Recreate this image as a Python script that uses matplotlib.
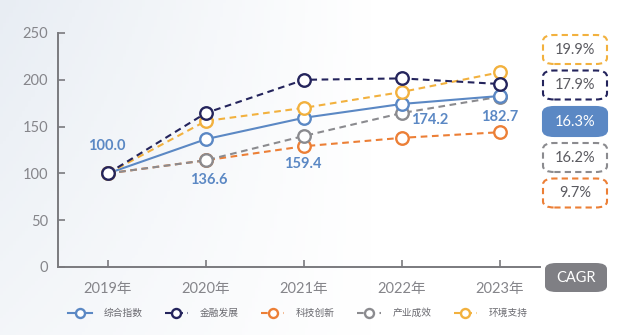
import numpy as np
import matplotlib
matplotlib.use("Agg")
import matplotlib.pyplot as plt
from matplotlib.patches import FancyBboxPatch

plt.rcParams['font.family'] = ['Lato', 'Noto Sans CJK SC', 'DejaVu Sans']

years = ['2019年', '2020年', '2021年', '2022年', '2023年']
composite = [100.0, 136.6, 159.4, 174.2, 182.7]
finance = [100, 164.5, 200, 201.5, 195.5]
tech = [100, 114, 129, 138, 144]
industry = [100, 114, 140, 164.5, 182]
environment = [100, 156, 170, 187, 208]

series_names = ['综合指数', '金融发展', '科技创新', '产业成效', '环境支持']
cagr_names = ['环境支持', '金融发展', '综合指数', '产业成效', '科技创新']
cagr_labels = ['19.9%', '17.9%', '16.3%', '16.2%', '9.7%']

colors = {'综合指数': '#5b88c4', '金融发展': '#24245c', '科技创新': '#ec7f36',
          '产业成效': '#8b8b8f', '环境支持': '#f2b13e'}

fig = plt.figure(figsize=(6.29, 3.35), dpi=100)
W, H = 629, 335

# soft background wash
bg = fig.add_axes([0, 0, 1, 1], zorder=-10)
gx = np.linspace(0, 1, 200)
gy = np.linspace(0, 1, 100)
GX, GY = np.meshgrid(gx, gy)
shade = np.clip(1 - 1.7 * GX, 0, 1) * (0.5 + 0.5 * GY)
base = np.array([1.0, 1.0, 1.0])
tint = np.array([0.91, 0.93, 0.955])
img = base[None, None, :] * (1 - shade[..., None]) + tint[None, None, :] * shade[..., None]
bg.imshow(img, aspect='auto', extent=[0, 1, 0, 1], origin='lower')
bg.axis('off')

ax = fig.add_axes([58 / W, 68 / H, 482 / W, 234 / H])
ax.patch.set_alpha(0)

x = np.arange(len(years))
data = {'综合指数': composite, '金融发展': finance, '科技创新': tech,
        '产业成效': industry, '环境支持': environment}
order = ['科技创新', '产业成效', '综合指数', '环境支持', '金融发展']
for name in order:
    ls = '-' if name == '综合指数' else (0, (3.2, 2.2))
    ax.plot(x, data[name], color=colors[name], linestyle=ls, linewidth=1.5,
            marker='o', markersize=9, markerfacecolor='white',
            markeredgewidth=1.7, markeredgecolor=colors[name], label=name)

ax.set_xlim(-0.51, 4.41)
ax.set_ylim(0, 250)
ax.set_xticks(x)
ax.set_xticklabels(years)
ax.set_yticks([0, 50, 100, 150, 200, 250])
for side in ['top', 'right']:
    ax.spines[side].set_visible(False)
for side in ['left', 'bottom']:
    ax.spines[side].set_color('#7a7a7e')
    ax.spines[side].set_linewidth(1.4)
ax.tick_params(axis='both', direction='in', length=5, width=1.2, color='#7a7a7e',
               labelcolor='#85858a', labelsize=10.5)
ax.tick_params(axis='x', pad=11)
ax.tick_params(axis='y', pad=7)

# value labels for the composite index
label_offsets = [(-0.7, 20), (2, -29.5), (-0.7, -33), (20, -11.5), (0, -15)]
for i, v in enumerate(composite):
    ax.annotate(f'{v:.1f}', (x[i], v), xytext=label_offsets[i], textcoords='offset points',
                ha='center', va='center', fontsize=10.5, fontweight='bold', color='#5b88c4')

# CAGR boxes on the right
box_cy = [49.5, 85, 121.5, 157.5, 193]
bw, bh = 64, 29
for name, lab, cy in zip(cagr_names, cagr_labels, box_cy):
    filled = name == '综合指数'
    p = FancyBboxPatch(((575 - bw / 2) / W, (H - cy - bh / 2) / H), bw / W, bh / H,
                       boxstyle='round,pad=0,rounding_size=0.018',
                       transform=fig.transFigure,
                       facecolor=colors[name] if filled else 'white',
                       edgecolor=colors[name], linewidth=1.5,
                       linestyle='-' if filled else (0, (3, 2)))
    fig.patches.append(p)
    fig.text(575 / W, (H - cy) / H, lab, ha='center', va='center', fontsize=10.5,
             color='white' if filled else '#5a5a60')

p = FancyBboxPatch((545 / W, (H - 292) / H), 62 / W, 29 / H,
                   boxstyle='round,pad=0,rounding_size=0.018', transform=fig.transFigure,
                   facecolor='#7f7f84', edgecolor='none')
fig.patches.append(p)
fig.text(576 / W, (H - 277.5) / H, 'CAGR', ha='center', va='center', fontsize=10.5,
         color='white')

handles, labels = ax.get_legend_handles_labels()
hmap = dict(zip(labels, handles))
leg = fig.legend([hmap[n] for n in series_names], series_names, loc='center',
                 bbox_to_anchor=(298 / W, (H - 313) / H), ncol=5, frameon=False,
                 prop={'family': ['Noto Sans CJK SC'], 'size': 7},
                 handlelength=2.4, columnspacing=2.3, handletextpad=1.2,
                 markerscale=0.72)
for t in leg.get_texts():
    t.set_color('#6a6a70')

fig.savefig('out.png', dpi=100)
